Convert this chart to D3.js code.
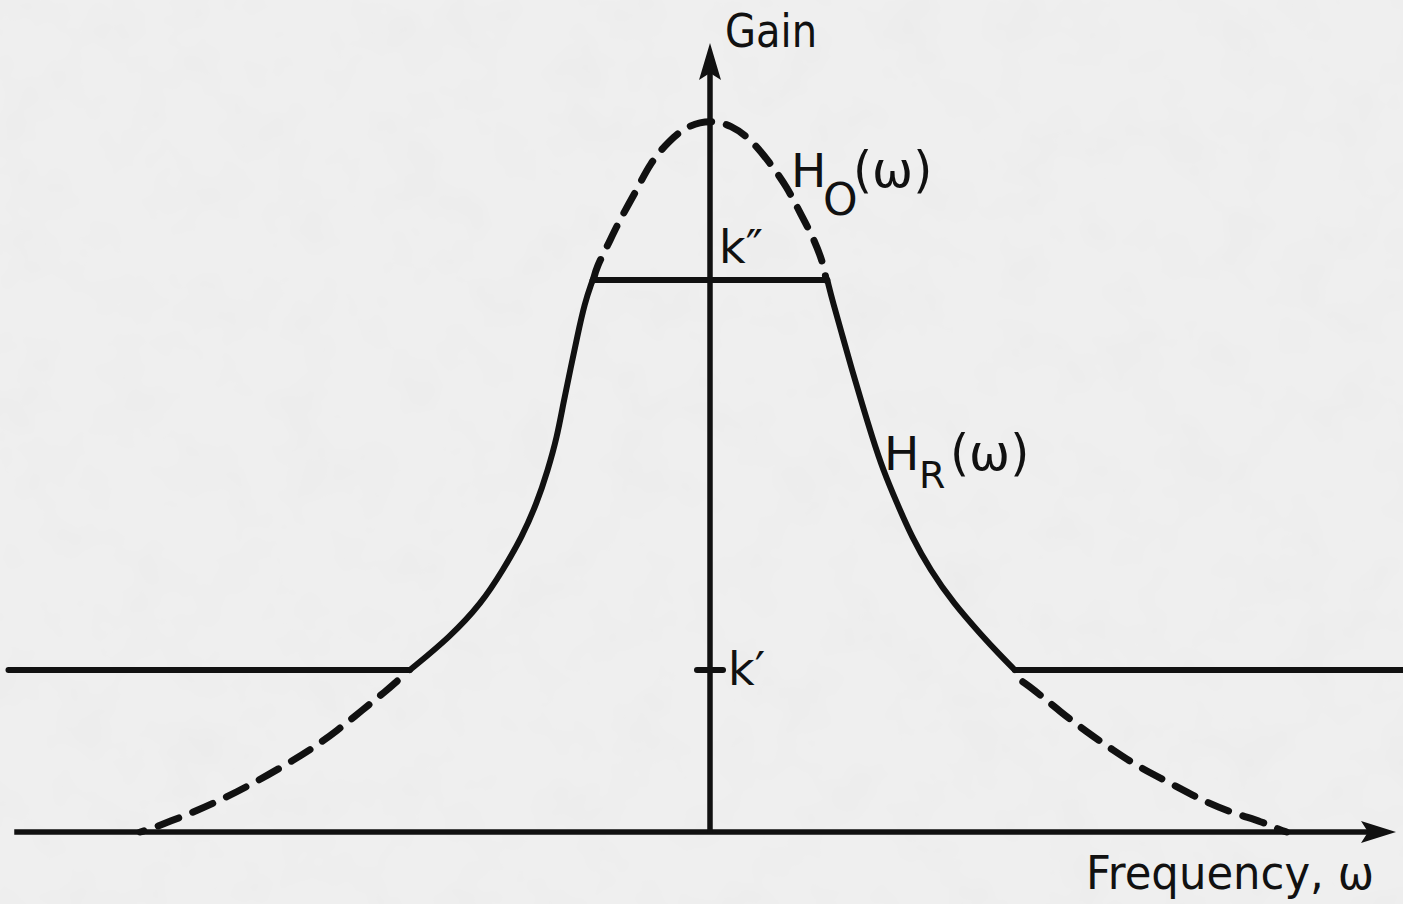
<!DOCTYPE html>
<html>
<head>
<meta charset="utf-8">
<script src="https://cdn.jsdelivr.net/npm/d3@7"></script>
<style>
  html, body { margin: 0; padding: 0; background: #ececec; }
  svg { display: block; }
  text { font-family: "DejaVu Sans", "Liberation Sans", sans-serif; fill: #111; }
</style>
</head>
<body>
<svg id="chart" width="1403" height="904"></svg>
<script>
// Gain reference levels on the vertical axis
const gainLevels = [0.2275, 0.7753];
const gainLevelLabels = ["k\u2032", "k\u2033"];

// H_O(ω): original response, visible parts (peak arc and the two tails)
const hoPeakOmega = [-2.03, -1.97, -1.79, -1.57, -1.27, -1.04, -0.70, -0.37, 0, 0.37, 0.72, 1.04, 1.34, 1.57, 1.79, 1.97, 2.02];
const hoPeakGain  = [0.7753, 0.794, 0.822, 0.860, 0.902, 0.940, 0.972, 0.993, 1.0, 0.993, 0.972, 0.940, 0.906, 0.869, 0.836, 0.799, 0.7753];

const hoLeftOmega = [-5.44, -5.62, -6.05, -6.49, -6.92, -7.41, -7.93, -8.43, -8.92, -9.39, -9.74, -9.91];
const hoLeftGain  = [0.212, 0.199, 0.171, 0.142, 0.117, 0.093, 0.069, 0.048, 0.030, 0.015, 0.004, 0];

const hoRightOmega = [5.44, 5.60, 6.09, 6.56, 7.01, 7.48, 8.00, 8.52, 9.04, 9.62, 9.91, 10.03];
const hoRightGain  = [0.211, 0.202, 0.169, 0.140, 0.115, 0.090, 0.069, 0.046, 0.028, 0.014, 0.003, 0];

// H_R(ω): restored response, clipped between k′ and k″
const hrOmega = [-12.2, -5.22, -4.52, -3.97, -3.60, -3.27, -3.01, -2.82, -2.66, -2.55, -2.43, -2.31, -2.18, -2.04,
                  2.04, 2.14, 2.31, 2.47, 2.64, 2.82, 3.01, 3.25, 3.51, 3.83, 4.23, 4.75, 5.01, 5.30, 12.3];
const hrGain  = [0.2275, 0.2275, 0.2739, 0.3216, 0.3680, 0.4143, 0.4621, 0.5084, 0.5548, 0.6025, 0.6489, 0.6952, 0.7430, 0.7753,
                 0.7753, 0.7430, 0.6952, 0.6489, 0.6025, 0.5548, 0.5084, 0.4621, 0.4143, 0.3680, 0.3216, 0.2739, 0.2514, 0.2275, 0.2275];
// indices where H_R has a corner (flat segments meet the curved flanks)
const hrCorners = [0, 1, 13, 14, 27, 28];

const axisLabels = { x: "Frequency, \u03c9", y: "Gain" };

const svg = d3.select("#chart");
const W = 1403, H = 904;

// paper-like background
const defs = svg.append("defs");
const paper = defs.append("filter").attr("id", "paper").attr("x", 0).attr("y", 0).attr("width", 1).attr("height", 1);
paper.append("feTurbulence").attr("type", "fractalNoise").attr("baseFrequency", 0.018).attr("numOctaves", 3).attr("seed", 7);
paper.append("feColorMatrix").attr("type", "matrix")
  .attr("values", "0 0 0 0 0.80  0 0 0 0 0.80  0 0 0 0 0.80  0.8 0 0 0 -0.36");
svg.append("rect").attr("width", W).attr("height", H).attr("fill", "#efefef");
svg.append("rect").attr("width", W).attr("height", H).attr("filter", "url(#paper)");

const x = d3.scaleLinear().domain([-12, 12]).range([20, 1400]);
const y = d3.scaleLinear().domain([0, 1]).range([832, 120]);

const ink = "#111";
const g = svg.append("g");

// axes
const x0 = x(0), y0 = y(0);
const yTop = 43, xRight = 1396;
g.append("line").attr("x1", x(-12.1)).attr("x2", xRight - 12).attr("y1", y0).attr("y2", y0)
  .attr("stroke", ink).attr("stroke-width", 5.5);
g.append("line").attr("x1", x0).attr("x2", x0).attr("y1", y0 + 1).attr("y2", yTop + 12)
  .attr("stroke", ink).attr("stroke-width", 5.5);

// arrowheads
g.append("path")
  .attr("d", `M${x0},${yTop} L${x0 - 11},${yTop + 37} L${x0},${yTop + 30} L${x0 + 11},${yTop + 37} Z`)
  .attr("fill", ink);
g.append("path")
  .attr("d", `M${xRight},${y0} L${xRight - 35},${y0 - 11} L${xRight - 28},${y0} L${xRight - 35},${y0 + 11} Z`)
  .attr("fill", ink);

// k′ tick on the gain axis
g.append("line").attr("x1", x0 - 13).attr("x2", x0 + 13)
  .attr("y1", y(gainLevels[0])).attr("y2", y(gainLevels[0]))
  .attr("stroke", ink).attr("stroke-width", 6).attr("stroke-linecap", "round");

// smooth B-spline through the read points
const curveLine = d3.line().x(d => x(d[0])).y(d => y(d[1])).curve(d3.curveBasis);

// H_O dashed pieces
const dashed = [
  d3.zip(hoPeakOmega, hoPeakGain),
  d3.zip(hoLeftOmega, hoLeftGain),
  d3.zip(hoRightOmega, hoRightGain)
];
g.selectAll("path.ho").data(dashed).join("path")
  .attr("class", "ho")
  .attr("d", curveLine)
  .attr("fill", "none").attr("stroke", ink).attr("stroke-width", 7)
  .attr("stroke-dasharray", "22,15").attr("stroke-linecap", "round");

// H_R solid: flat parts and curved flanks, split at the corners
const hrPts = d3.zip(hrOmega, hrGain);
const hrSegs = d3.pairs(hrCorners).map(([a, b]) => hrPts.slice(a, b + 1));
g.selectAll("path.hr").data(hrSegs).join("path")
  .attr("class", "hr")
  .attr("d", curveLine)
  .attr("fill", "none").attr("stroke", ink).attr("stroke-width", 6)
  .attr("stroke-linecap", "round").attr("stroke-linejoin", "round");

// axis titles
g.append("text").attr("x", 725).attr("y", 47).attr("font-size", 46)
  .attr("textLength", 92).attr("lengthAdjust", "spacingAndGlyphs").text(axisLabels.y);
g.append("text").attr("x", 1086).attr("y", 889).attr("font-size", 47)
  .attr("textLength", 288).attr("lengthAdjust", "spacingAndGlyphs").text(axisLabels.x);

// level labels
g.append("text").attr("x", x0 + 18).attr("y", y(gainLevels[0]) + 15).attr("font-size", 46).text(gainLevelLabels[0]);
g.append("text").attr("x", x0 + 9).attr("y", y(gainLevels[1]) - 17).attr("font-size", 46).text(gainLevelLabels[1]);

// curve labels with subscripts
function curveLabel(px, py, sub, subDx, subDy, subSize, parenDx) {
  const t = g.append("g");
  t.append("text").attr("x", px).attr("y", py).attr("font-size", 47).text("H");
  t.append("text").attr("x", px + subDx).attr("y", py + subDy).attr("font-size", subSize).text(sub);
  t.append("text").attr("x", px + parenDx).attr("y", py).attr("font-size", 49).text("(\u03c9)");
}
curveLabel(791, 187, "O", 32, 28, 44, 62);
curveLabel(884, 470, "R", 35, 18, 38, 66);
</script>
</body>
</html>
